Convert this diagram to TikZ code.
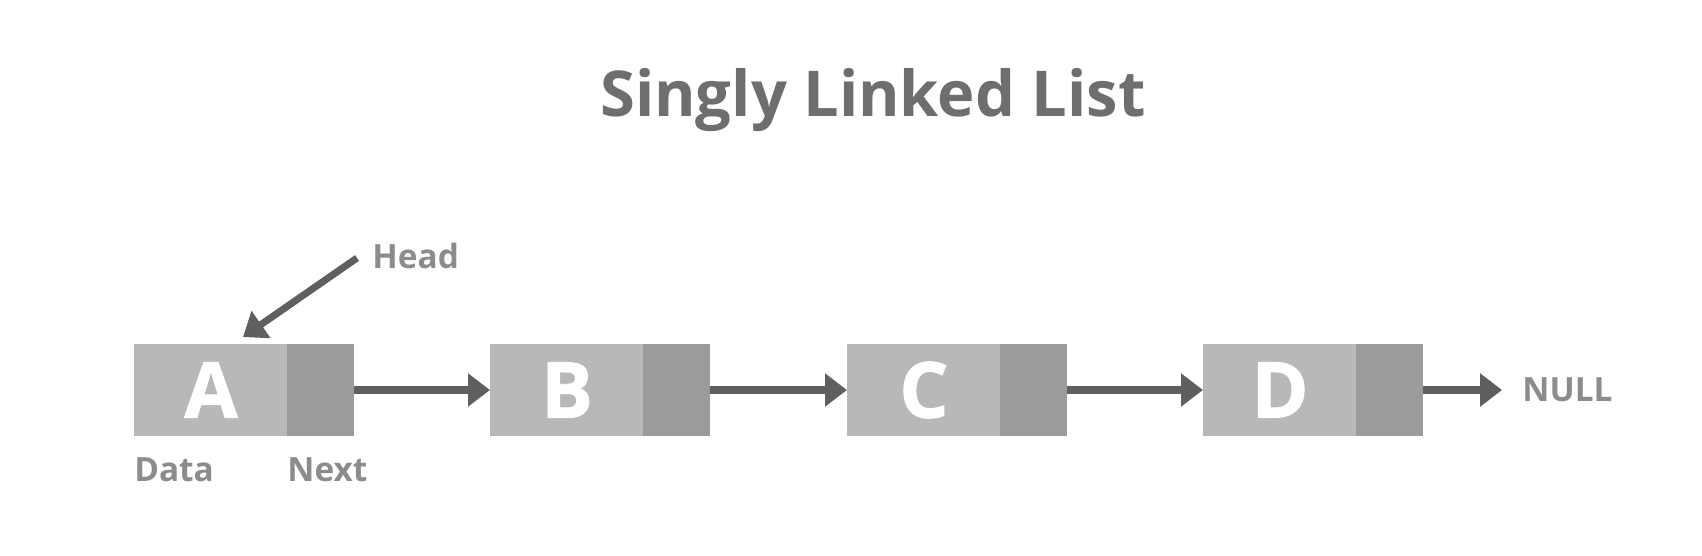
\documentclass[tikz,border=0pt]{standalone}
\usepackage{fontspec}
\setmainfont{Open Sans}
\newfontfamily\cellfont{Open Sans}[BoldFeatures={FakeBold=1.2}]
\usetikzlibrary{positioning, arrows.meta}
\definecolor{datafill}{HTML}{B8B8B8}
\definecolor{nextfill}{HTML}{9B9B9B}
\definecolor{linkgray}{HTML}{5F5F5F}
\definecolor{titlegray}{HTML}{6E6E6E}
\definecolor{labelgray}{HTML}{8C8C8C}

\begin{document}
\begin{tikzpicture}[x=0.02cm, y=-0.02cm,
    datacell/.style={fill=datafill, minimum width=3.08cm, minimum height=1.84cm, inner sep=0, outer sep=0, text=white, font=\fontsize{44}{44}\cellfont\bfseries},
    nextcell/.style={fill=nextfill, minimum width=1.34cm, minimum height=1.84cm, inner sep=0, outer sep=0},
    link/.style={draw=linkgray, line width=4pt, -{Triangle[length=0.44cm, width=0.64cm]}},
    tag/.style={text=labelgray, inner sep=0, font=\fontsize{19}{19}\selectfont\bfseries}]
    \useasboundingbox (0,0) rectangle (1702,555);
    \node[anchor=base, inner sep=0, text=titlegray, font=\fontsize{36}{36}\selectfont\bfseries] (title) at (873,116) {Singly Linked List};
    \foreach \name/\x in {A/134, B/490, C/847, D/1203}{
	\node[datacell, anchor=north west] (\name) at (\x,344) {\name};
	\node[nextcell, right=-0.5pt of \name] (\name-next) {};
	};
    \foreach \from/\to in {A/B, B/C, C/D}{
	\draw[link] (\from-next.east) -- (\to.west);
	};
    \node[tag, right=1.98cm of D-next] (null) {NULL};
    \draw[link, shorten >=0.4cm] (D-next.east) -- (null.west);
    \node[tag, anchor=base west] (head) at (372,268) {Head};
    \coordinate (headtail) at (357,258);
    \coordinate (headtip) at (243,337);
    \draw[link] (headtail) -- (headtip);
    \node[tag, anchor=north west] (datatag) at ([yshift=-0.42cm]A.south west) {Data};
    \node[tag, anchor=north west] (nexttag) at ([yshift=-0.42cm]A-next.south west) {Next};
\end{tikzpicture}
\end{document}
